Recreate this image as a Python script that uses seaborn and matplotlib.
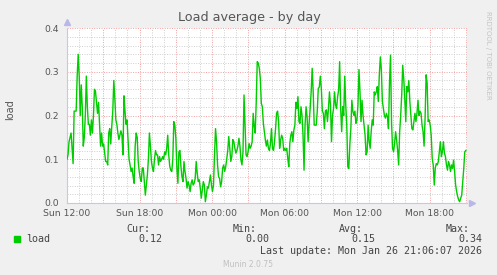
import numpy as np
import pandas as pd
import matplotlib
matplotlib.use("Agg")
import matplotlib.pyplot as plt
import seaborn as sns

# ---- data ----
load_sun_12_16 = [0.10, 0.11, 0.14, 0.15, 0.16, 0.125, 0.09, 0.21, 0.21, 0.21, 0.29, 0.34, 0.29, 0.20, 0.27,
                  0.22, 0.13, 0.15, 0.20, 0.29, 0.22, 0.18, 0.18, 0.155, 0.19, 0.16, 0.20, 0.26, 0.255, 0.23,
                  0.205, 0.23, 0.18, 0.13, 0.16, 0.13, 0.135, 0.115, 0.095, 0.095, 0.087, 0.16, 0.17, 0.135,
                  0.175, 0.21, 0.28, 0.24, 0.19, 0.18, 0.16, 0.145]
load_sun_16_21 = [0.155, 0.165, 0.155, 0.11, 0.245, 0.21, 0.18, 0.19, 0.145, 0.10, 0.087, 0.072, 0.08, 0.06,
                  0.045, 0.13, 0.16, 0.15, 0.095, 0.072, 0.056, 0.049, 0.08, 0.08, 0.049, 0.018, 0.041, 0.064,
                  0.10, 0.16, 0.13, 0.095, 0.08, 0.072, 0.10, 0.12, 0.11, 0.11, 0.087, 0.106, 0.095, 0.10,
                  0.106, 0.10, 0.117, 0.11, 0.125, 0.155, 0.11, 0.084, 0.075, 0.072, 0.10, 0.186, 0.178]
load_sun_21_mon_01 = [0.148, 0.08, 0.045, 0.117, 0.12, 0.083, 0.06, 0.049, 0.095, 0.072, 0.056, 0.034, 0.049,
                      0.041, 0.026, 0.045, 0.053, 0.041, 0.045, 0.056, 0.095, 0.068, 0.049, 0.053, 0.034,
                      0.011, 0.03, 0.049, 0.041, 0.003, 0.018, 0.037, 0.034, 0.049, 0.064, 0.041, 0.026,
                      0.041, 0.11, 0.17, 0.14, 0.087, 0.06, 0.056, 0.037, 0.049, 0.08, 0.087, 0.072, 0.083,
                      0.10, 0.12, 0.152, 0.125, 0.095, 0.106, 0.145]
load_mon_01_06 = [0.14, 0.125, 0.114, 0.12, 0.13, 0.148, 0.13, 0.098, 0.087, 0.117, 0.247, 0.178, 0.11, 0.106,
                  0.117, 0.136, 0.125, 0.13, 0.14, 0.205, 0.175, 0.16, 0.23, 0.323, 0.32, 0.308, 0.285, 0.228,
                  0.22, 0.182, 0.163, 0.144, 0.13, 0.144, 0.125, 0.12, 0.136, 0.17, 0.125, 0.12, 0.14, 0.17,
                  0.205, 0.21, 0.186, 0.125, 0.144, 0.155, 0.148, 0.12, 0.125, 0.12, 0.125, 0.102, 0.083,
                  0.136, 0.155, 0.163]
load_mon_06_11 = [0.14, 0.167, 0.178, 0.23, 0.216, 0.243, 0.186, 0.182, 0.22, 0.20, 0.155, 0.075, 0.178, 0.22,
                  0.197, 0.14, 0.182, 0.216, 0.254, 0.308, 0.254, 0.178, 0.178, 0.178, 0.21, 0.262, 0.265,
                  0.29, 0.262, 0.21, 0.205, 0.17, 0.21, 0.213, 0.186, 0.216, 0.254, 0.224, 0.14, 0.20, 0.216,
                  0.254, 0.224, 0.216, 0.243, 0.258, 0.323, 0.216, 0.163, 0.22, 0.20, 0.29, 0.224, 0.178,
                  0.083, 0.079]
load_mon_11_16 = [0.133, 0.17, 0.235, 0.21, 0.20, 0.21, 0.182, 0.19, 0.224, 0.305, 0.254, 0.186, 0.235, 0.20,
                  0.178, 0.155, 0.11, 0.117, 0.178, 0.14, 0.125, 0.163, 0.19, 0.178, 0.254, 0.247, 0.254,
                  0.266, 0.232, 0.293, 0.334, 0.305, 0.232, 0.216, 0.20, 0.194, 0.205, 0.197, 0.17, 0.274,
                  0.338, 0.186, 0.125, 0.117, 0.136, 0.163, 0.144, 0.12, 0.087, 0.163, 0.20, 0.247, 0.315,
                  0.285, 0.24, 0.186, 0.266]
load_mon_16_21 = [0.254, 0.28, 0.232, 0.20, 0.17, 0.167, 0.186, 0.205, 0.186, 0.205, 0.235, 0.20, 0.21, 0.205,
                  0.178, 0.163, 0.13, 0.194, 0.293, 0.274, 0.186, 0.19, 0.178, 0.155, 0.102, 0.087, 0.041,
                  0.08, 0.09, 0.087, 0.095, 0.117, 0.14, 0.106, 0.117, 0.14, 0.114, 0.106, 0.087, 0.075,
                  0.095, 0.087, 0.072, 0.087, 0.079, 0.098, 0.072, 0.041, 0.026, 0.015, 0.007, 0.003, 0.011,
                  0.018, 0.049, 0.079, 0.117, 0.12]

span_hours = 33.0          # Sun 12:00 -> Mon 21:00
tick_hours = [0, 6, 12, 18, 24, 30]
tick_labels = ["Sun 12:00", "Sun 18:00", "Mon 00:00", "Mon 06:00", "Mon 12:00", "Mon 18:00"]
y_ticks = [0.0, 0.1, 0.2, 0.3, 0.4]
stats_headers = ["Cur:", "Min:", "Avg:", "Max:"]
stats_values = ["0.12", "0.00", "0.15", "0.34"]

load = (load_sun_12_16 + load_sun_16_21 + load_sun_21_mon_01 + load_mon_01_06 +
        load_mon_06_11 + load_mon_11_16 + load_mon_16_21)
hours = np.linspace(0, span_hours, len(load))
df = pd.DataFrame({"hours": hours, "load": load})

# ---- figure ----
W, H = 497, 275
fig = plt.figure(figsize=(W / 100, H / 100), dpi=100, facecolor="#F0F0F0")
L, R, T, B = 67, 467, 28, 203
ax = fig.add_axes([L / W, 1 - B / H, (R - L) / W, (B - T) / H])
ax.set_facecolor("white")

sns.lineplot(data=df, x="hours", y="load", ax=ax, color="#00CC00", linewidth=1.0, zorder=3)

ax.set_xlim(0, 33.1)
ax.set_ylim(0, 0.4)

major_x = np.arange(0, 34, 3)
ax.set_xticks(major_x)
ax.set_xticklabels([tick_labels[tick_hours.index(h)] if h in tick_hours else "" for h in major_x])
ax.set_xticks(np.arange(0, 34, 1), minor=True)
ax.set_yticks(y_ticks)
ax.set_yticklabels([f"{v:.1f}" for v in y_ticks])
ax.set_yticks(np.arange(0, 0.401, 0.02), minor=True)

ax.grid(which="minor", color="#cfcfcf", linestyle=(0, (1, 1.5)), linewidth=0.7)
ax.grid(which="major", color="#f0a0a0", linestyle=(0, (1, 1.5)), linewidth=0.7)
ax.set_axisbelow(True)

ax.tick_params(which="both", length=0)
ax.tick_params(axis="x", labelsize=6.7, labelcolor="#555555", pad=4)
ax.tick_params(axis="y", labelsize=6.7, labelcolor="#555555", pad=6)
for lab in ax.get_xticklabels():
    lab.set_x(lab.get_position()[0])

for s in ["top", "right"]:
    ax.spines[s].set_visible(False)
for s in ["left", "bottom"]:
    ax.spines[s].set_color("#c8c8e6")
    ax.spines[s].set_linewidth(0.8)

ax.set_xlabel("")
ax.set_ylabel("")

# axis arrows
ax.plot([0], [1.035], marker="^", color="#b8b8e8", markersize=4, transform=ax.transAxes, clip_on=False)
ax.plot([1.013], [0], marker=">", color="#b8b8e8", markersize=4, transform=ax.transAxes, clip_on=False)

def fx(px):
    return px / W

def fy(py):
    return 1 - py / H

fig.text(fx(249), fy(18), "Load average - by day", ha="center", va="center",
         fontsize=9.2, color="#555555")
fig.text(fx(10), fy(110), "load", ha="center", va="center", rotation=90,
         fontsize=7, color="#555555")
fig.text(fx(488), fy(55), "RRDTOOL / TOBI OETIKER", ha="center", va="center", rotation=270,
         fontsize=5.0, color="#c4c4c4")

mono = "DejaVu Sans Mono"
fig.patches.append(matplotlib.patches.Rectangle((fx(14), fy(242)), 6 / W, 6 / H,
                                                transform=fig.transFigure, color="#00CC00"))
fig.text(fx(26.5), fy(239.5), "load", ha="left", va="center", fontsize=7.2,
         family=mono, color="#444444")
head_right = [150, 256.7, 363, 470]
val_right = [162.3, 269, 375.7, 482.3]
for hx, h in zip(head_right, stats_headers):
    fig.text(fx(hx), fy(228.5), h, ha="right", va="center", fontsize=7.2, family=mono, color="#444444")
for vx, v in zip(val_right, stats_values):
    fig.text(fx(vx), fy(239.5), v, ha="right", va="center", fontsize=7.2, family=mono, color="#444444")
fig.text(fx(482.3), fy(251), "Last update: Mon Jan 26 21:06:07 2026", ha="right", va="center",
         fontsize=7.2, family=mono, color="#444444")
fig.text(fx(248), fy(264.5), "Munin 2.0.75", ha="center", va="center", fontsize=5.5, color="#c0c0c0")

fig.savefig("out.png", dpi=100, facecolor=fig.get_facecolor())
